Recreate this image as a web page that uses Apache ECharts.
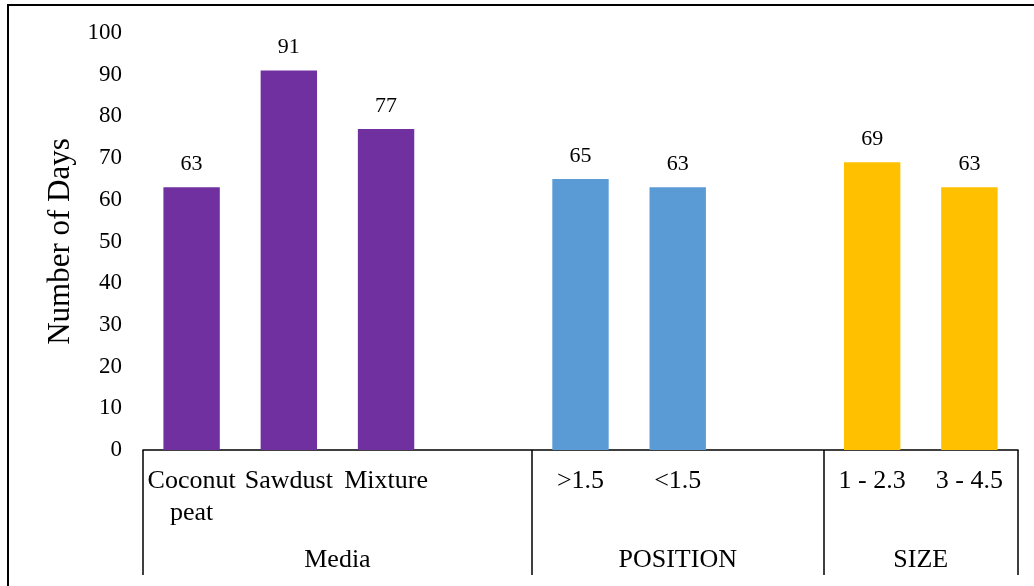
<!DOCTYPE html>
<html><head><meta charset="utf-8">
<script src="https://cdn.jsdelivr.net/npm/echarts@6/dist/echarts.min.js"></script>
<style>html,body{margin:0;padding:0;background:#fff}#c{width:1034px;height:586px}</style>
</head><body><div id="c"></div>
<script>
const categories = ['Coconut\npeat', 'Sawdust', 'Mixture', '', '>1.5', '<1.5', '', '1 - 2.3', '3 - 4.5'];
const values = [63, 91, 77, null, 65, 63, null, 69, 63];
const groupOf = [0, 0, 0, 0, 1, 1, 1, 2, 2];
const groupNames = ['Media', 'POSITION', 'SIZE'];
const groupCenters = [1.5, 5, 7.5];
const groupBounds = [-0.5, 3.5, 6.5, 8.5];
const groupColors = ['#7030A0', '#5B9BD5', '#FFC000'];

const font = 'Liberation Serif, Times New Roman, serif';
const chart = echarts.init(document.getElementById('c'));
chart.setOption({
  animation: false,
  grid: { left: 143, right: 16, top: 33, bottom: 136 },
  graphic: [{ type: 'rect', shape: { x: 8, y: 5, width: 1200, height: 800 }, style: { fill: 'none', stroke: '#000', lineWidth: 2 } }],
  xAxis: [{
    type: 'category', data: categories,
    axisLine: { lineStyle: { color: '#000', width: 1.5 } },
    axisTick: { show: false },
    axisLabel: { interval: 0, color: '#000', fontFamily: font, fontSize: 26, lineHeight: 32, margin: 15 }
  }, {
    type: 'value', min: -0.5, max: 8.5, position: 'bottom',
    axisLine: { show: false }, splitLine: { show: false },
    axisTick: { show: true, customValues: groupBounds, length: 125, lineStyle: { color: '#000', width: 1.5 } },
    axisLabel: { customValues: groupCenters, margin: 97, color: '#000', fontFamily: font, fontSize: 26,
      formatter: v => groupNames[groupCenters.indexOf(v)] }
  }],
  yAxis: {
    type: 'value', min: 0, max: 100, interval: 10,
    name: 'Number of Days', nameLocation: 'middle', nameGap: 66, nameRotate: 90,
    nameTextStyle: { color: '#000', fontFamily: font, fontSize: 31 },
    axisLine: { show: false }, axisTick: { show: false }, splitLine: { show: false },
    axisLabel: { color: '#000', fontFamily: font, fontSize: 23, margin: 21 }
  },
  series: [{
    type: 'bar', xAxisIndex: 0, barCategoryGap: '42%',
    data: values.map((v, i) => v == null ? '-' : { value: v, itemStyle: { color: groupColors[groupOf[i]] } }),
    label: { show: true, position: 'top', distance: 12, color: '#000', fontFamily: font, fontSize: 22 }
  }]
});
</script></body></html>
